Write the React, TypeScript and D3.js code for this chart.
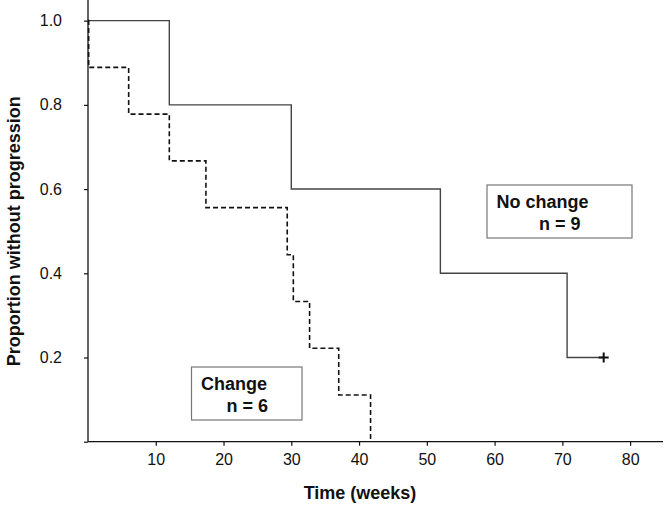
import React, { useRef, useEffect } from "react";
import * as d3 from "d3";

// Kaplan-Meier steps (time in weeks, proportion)
const noChangeTimes = [0, 12, 30, 52, 70.7, 76.1];
const noChangeSurv = [1, 0.8, 0.6, 0.4, 0.2, 0.2];

const changeTimes = [0, 0.1, 6, 12, 17.4, 29.4, 30.3, 32.7, 37, 41.7, 41.7];
const changeSurv = [1, 0.889, 0.778, 0.667, 0.556, 0.444, 0.333, 0.222, 0.111, 0, 0];

const xTicks = [10, 20, 30, 40, 50, 60, 70, 80];
const yTicks = [0, 0.2, 0.4, 0.6, 0.8, 1.0];

const W = 664;
const H = 505;

export default function App() {
  const ref = useRef<SVGSVGElement>(null);

  useEffect(() => {
    const svg = d3.select(ref.current);
    svg.selectAll("*").remove();

    const x = d3.scaleLinear().domain([0, 85]).range([88, 664]);
    const y = d3.scaleLinear().domain([0, 1.05]).range([441.7, -0.4]);

    const font = "Arial, 'Liberation Sans', sans-serif";

    // axes
    const xAxis = d3.axisBottom(x).tickValues(xTicks).tickSize(4).tickFormat(d3.format("d"));
    const gx = svg.append("g").attr("transform", `translate(0,${y(0)})`).call(xAxis);
    gx.select(".domain").attr("stroke", "#111").attr("stroke-width", 1.3).attr("d", `M${x(0)},0H${W - 1}`);
    gx.selectAll(".tick line").attr("stroke", "#111").attr("stroke-width", 1.2);
    gx.selectAll(".tick text")
      .attr("y", 12)
      .attr("font-family", font)
      .attr("font-size", 16)
      .attr("fill", "#111");

    const yAxis = d3.axisLeft(y).tickValues(yTicks).tickSize(4)
      .tickFormat((d) => (+d === 0 ? "" : d3.format(".1f")(+d)));
    const gy = svg.append("g").attr("transform", `translate(${x(0)},0)`).call(yAxis);
    gy.select(".domain").attr("stroke", "#111").attr("stroke-width", 1.3).attr("d", `M0,0V${y(0)}`);
    gy.selectAll(".tick line").attr("stroke", "#111").attr("stroke-width", 1.2);
    gy.selectAll(".tick text")
      .attr("x", -26)
      .attr("font-family", font)
      .attr("font-size", 16)
      .attr("fill", "#111");

    // curves
    const line = d3.line<[number, number]>()
      .x((d) => x(d[0]))
      .y((d) => y(d[1]))
      .curve(d3.curveStepAfter);

    const solid = noChangeTimes.map((t, i) => [t, noChangeSurv[i]] as [number, number]);
    const dashed = changeTimes.map((t, i) => [t, changeSurv[i]] as [number, number]);

    svg.append("path")
      .attr("d", line(solid))
      .attr("fill", "none")
      .attr("stroke", "#444")
      .attr("stroke-width", 1.4);

    svg.append("path")
      .attr("d", line(dashed))
      .attr("fill", "none")
      .attr("stroke", "#111")
      .attr("stroke-width", 1.6)
      .attr("stroke-dasharray", "5,3");

    // censor mark
    const last = solid[solid.length - 1];
    svg.append("path")
      .attr("d", `M${x(last[0]) - 5},${y(last[1])}h10M${x(last[0])},${y(last[1]) - 5}v10`)
      .attr("stroke", "#111")
      .attr("stroke-width", 2);

    // label boxes
    const boxes = [
      { x0: 487, y0: 185, w: 145, h: 53, l1: "No change", l2: "n = 9", dx2: 52 },
      { x0: 191.5, y0: 367, w: 110.5, h: 53, l1: "Change", l2: "n = 6", dx2: 35 },
    ];
    boxes.forEach((b) => {
      const g = svg.append("g").attr("transform", `translate(${b.x0},${b.y0})`);
      g.append("rect")
        .attr("width", b.w)
        .attr("height", b.h)
        .attr("fill", "#fff")
        .attr("stroke", "#777")
        .attr("stroke-width", 1.2);
      g.append("text")
        .attr("x", 9.5)
        .attr("y", 22.5)
        .attr("font-family", font)
        .attr("font-weight", "bold")
        .attr("font-size", 18)
        .attr("fill", "#111")
        .text(b.l1);
      g.append("text")
        .attr("x", b.dx2)
        .attr("y", 45)
        .attr("font-family", font)
        .attr("font-weight", "bold")
        .attr("font-size", 18)
        .attr("fill", "#111")
        .text(b.l2);
    });

    // axis titles
    svg.append("text")
      .attr("x", (x(0) + W) / 2 - 16)
      .attr("y", 499)
      .attr("text-anchor", "middle")
      .attr("font-family", font)
      .attr("font-weight", "bold")
      .attr("font-size", 18)
      .attr("fill", "#111")
      .text("Time (weeks)");

    svg.append("text")
      .attr("transform", `translate(20,${y(0.5)}) rotate(-90)`)
      .attr("text-anchor", "middle")
      .attr("font-family", font)
      .attr("font-weight", "bold")
      .attr("font-size", 18)
      .attr("fill", "#111")
      .text("Proportion without progression");
  }, []);

  return (
    <svg
      ref={ref}
      width={W}
      height={H}
      style={{ position: "absolute", left: 0, top: 0, background: "#fff" }}
    />
  );
}
